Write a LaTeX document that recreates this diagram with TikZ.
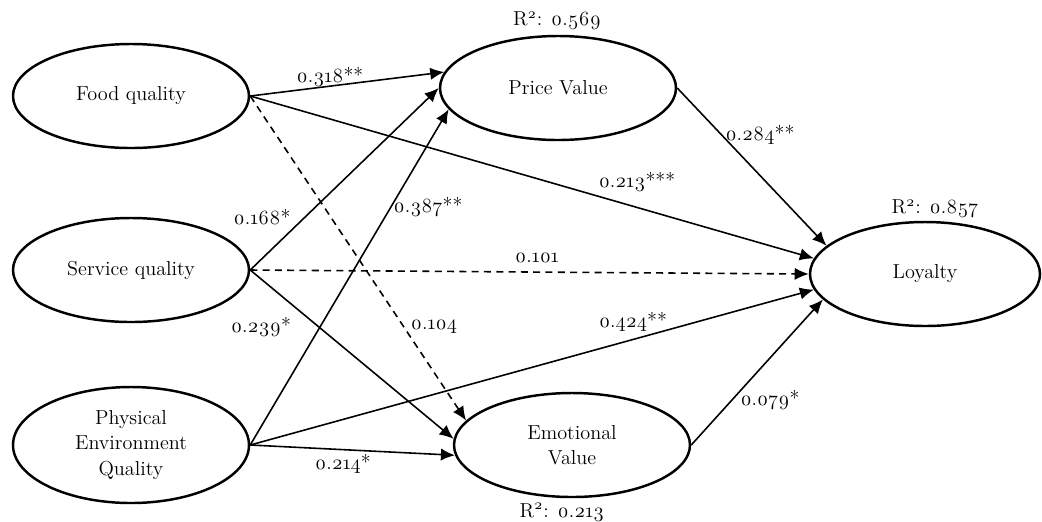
\documentclass[tikz,border=0pt]{standalone}
\usepackage{fontspec}
\setmainfont{Latin Modern Roman}[Numbers=OldStyle]
\usepackage{tikz}
\usetikzlibrary{positioning, shapes.geometric, arrows.meta}

\begin{document}
\begin{tikzpicture}[x=0.2mm, y=-0.2mm,
    every node/.style={font=\fontsize{11.5}{14.3}\selectfont},
    construct/.style={draw, ellipse, line width=1.4pt, inner sep=0pt,
        minimum width=47.2mm, minimum height=20.8mm, align=center},
    coef/.style={inner sep=1pt},
    effect/.style={-{Latex[length=8pt,width=7pt]}, line width=0.9pt},
    weakeffect/.style={effect, dash pattern=on 4pt off 3pt}]

    \useasboundingbox (0,0) rectangle (1042,521);

    % constructs
    \node[construct](food) at (131,96) {Food quality};
    \node[construct](service) at (131,270) {Service quality};
    \node[construct, minimum height=23.2mm](physical) at (131,445)
        {Physical\\Environment\\Quality};
    \node[construct](price) at (558,88) {Price Value};
    \node[construct](emotional) at (572,445) {Emotional\\Value};
    \node[construct, minimum width=46mm](loyalty) at (925,274) {Loyalty};

    % explained variance
    \node[coef](r-price) at (557,21) {R\textsuperscript{2}: 0.569};
    \node[coef](r-loyalty) at (935,209) {R\textsuperscript{2}: 0.857};
    \node[coef](r-emotional) at (562,512) {R\textsuperscript{2}: 0.213};

    % paths
    \draw[effect] (food.east) -- (price.172);
    \draw[effect] (service.east) -- (price.180);
    \draw[effect] (physical.east) -- (price.191);
    \draw[weakeffect] (food.east) -- (emotional.167);
    \draw[effect] (food.east) -- (loyalty.172);
    \draw[weakeffect] (service.east) -- (loyalty.west);
    \draw[effect] (physical.east) -- (loyalty.188);
    \draw[effect] (service.east) -- (emotional.177);
    \draw[effect] (physical.east) -- (emotional.185);
    \draw[effect] (price.east) -- (loyalty.164);
    \draw[effect] (emotional.east) -- (loyalty.194);

    % path coefficients
    \node[coef](c-food-price) at (330,77) {0.318**};
    \node[coef](c-service-price) at (262,217) {0.168*};
    \node[coef](c-physical-price) at (428,207) {0.387**};
    \node[coef](c-food-emotional) at (434,327) {0.104};
    \node[coef](c-food-loyalty) at (637,182) {0.213***};
    \node[coef](c-service-loyalty) at (537,258) {0.101};
    \node[coef](c-physical-loyalty) at (633,322) {0.424**};
    \node[coef](c-service-emotional) at (261,327) {0.239*};
    \node[coef](c-physical-emotional) at (343,464) {0.214*};
    \node[coef](c-price-loyalty) at (760,135) {0.284**};
    \node[coef](c-emotional-loyalty) at (770,400) {0.079*};
\end{tikzpicture}
\end{document}
